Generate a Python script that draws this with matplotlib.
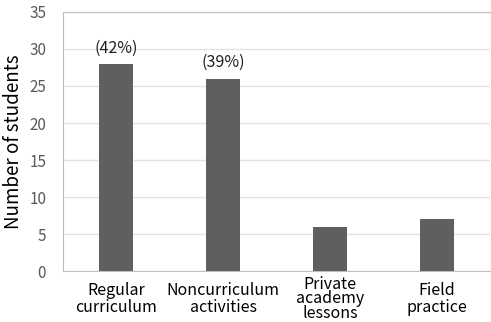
import matplotlib
matplotlib.use("Agg")
import matplotlib.pyplot as plt
import numpy as np

plt.rcParams['font.family'] = ['Noto Sans CJK KR', 'DejaVu Sans']

categories = ["Regular\ncurriculum", "Noncurriculum\nactivities", "Private\nacademy\nlessons", "Field\npractice"]
counts = [28, 26, 6, 7]
pct_labels = ["(42%)", "(39%)", None, None]

fig = plt.figure(figsize=(4.91, 3.22), dpi=100)
ax = fig.add_axes([0.128, 0.158, 0.870, 0.805])

x = np.arange(len(categories))
ax.bar(x, counts, width=0.32, color="#5f5f5f", zorder=3)
for xi, c, lab in zip(x, counts, pct_labels):
    if lab:
        ax.text(xi, c + 1.0, lab, ha="center", va="bottom", fontsize=11.5, color="#222222")

ax.set_xlim(-0.5, len(categories) - 0.5)
ax.set_ylim(0, 35)
ax.set_yticks(np.arange(0, 36, 5))
ax.yaxis.grid(True, color="#e3e3e3", linewidth=1, zorder=0)
ax.set_xticks(x)
ax.set_xticklabels(categories, fontsize=11.5)
for t in ax.get_xticklabels():
    t.set_va("center")
    t.set_linespacing(0.8 if t.get_text().count("\n") > 1 else 1.05)
ax.tick_params(axis="x", length=0, pad=20)
ax.tick_params(axis="y", length=0, labelsize=11, labelcolor="#595959", pad=12)
for s in ["left", "bottom", "top"]:
    ax.spines[s].set_color("#bfbfbf")
ax.spines["right"].set_visible(False)
ax.set_ylabel("Number of students", fontsize=13.5, labelpad=4)

fig.savefig("out.png", dpi=100)
